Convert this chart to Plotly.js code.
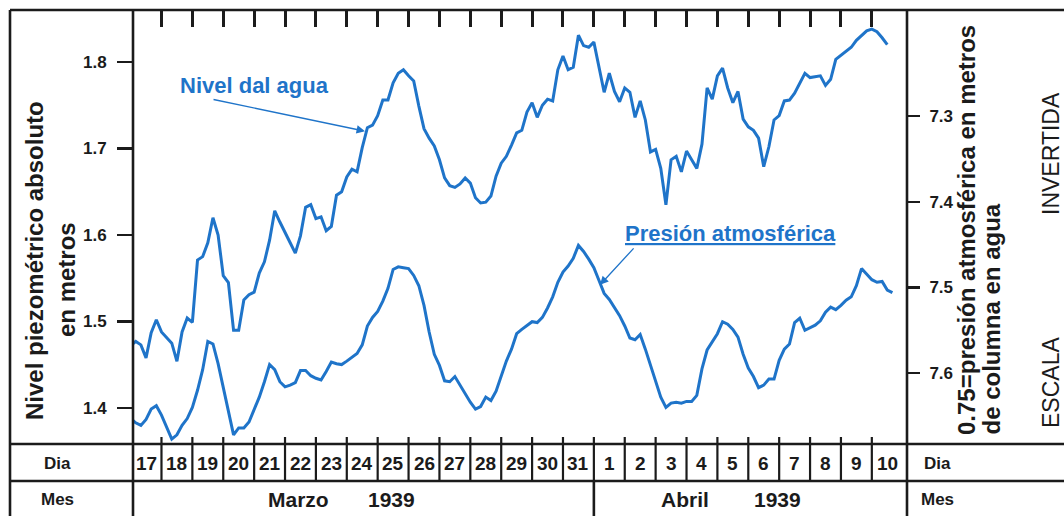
<!DOCTYPE html>
<html>
<head>
<meta charset="utf-8">
<script src="https://cdn.plot.ly/plotly-3.0.1.min.js"></script>
<style>
  html, body { margin: 0; padding: 0; background: #ffffff; }
  #chart { width: 1064px; height: 516px; }
</style>
</head>
<body>
<div id="chart"></div>
<script>
// Readings taken every 4 hours, starting 17 March 1939 at 00:00
const startDate = '1939-03-17';
const stepHours = 4;

// Nivel piezométrico absoluto (m), left scale
const nivelAgua = [
  1.472, 1.477, 1.473, 1.458, 1.487, 1.502, 1.488, 1.482, 1.475, 1.454, 1.488, 1.504,
  1.499, 1.571, 1.575, 1.591, 1.620, 1.600, 1.553, 1.545, 1.490, 1.490, 1.525, 1.531,
  1.534, 1.556, 1.569, 1.594, 1.628, 1.615, 1.602, 1.591, 1.579, 1.599, 1.632, 1.635,
  1.619, 1.621, 1.605, 1.610, 1.646, 1.650, 1.667, 1.676, 1.673, 1.701, 1.724, 1.727,
  1.738, 1.756, 1.756, 1.776, 1.787, 1.791, 1.784, 1.778, 1.749, 1.723, 1.712, 1.703,
  1.687, 1.666, 1.657, 1.655, 1.659, 1.666, 1.660, 1.643, 1.637, 1.638, 1.645, 1.668,
  1.683, 1.691, 1.704, 1.718, 1.721, 1.742, 1.753, 1.736, 1.750, 1.757, 1.755, 1.791,
  1.807, 1.791, 1.794, 1.831, 1.819, 1.817, 1.823, 1.792, 1.765, 1.787, 1.766, 1.754,
  1.770, 1.765, 1.736, 1.755, 1.733, 1.696, 1.699, 1.677, 1.635, 1.687, 1.691, 1.673,
  1.697, 1.687, 1.677, 1.705, 1.770, 1.757, 1.784, 1.793, 1.770, 1.753, 1.766, 1.734,
  1.725, 1.721, 1.712, 1.679, 1.702, 1.733, 1.738, 1.755, 1.756, 1.764, 1.775, 1.787,
  1.782, 1.783, 1.784, 1.773, 1.780, 1.803, 1.808, 1.813, 1.817, 1.825, 1.831, 1.836,
  1.838, 1.835, 1.828, 1.820
];

// 0.75 = presión atmosférica en metros de columna de agua, inverted right scale
const presionAtm = [
  7.653, 7.658, 7.661, 7.654, 7.642, 7.638, 7.649, 7.664, 7.677, 7.672, 7.661, 7.653,
  7.640, 7.620, 7.596, 7.563, 7.566, 7.589, 7.618, 7.646, 7.672, 7.664, 7.664, 7.657,
  7.643, 7.628, 7.610, 7.590, 7.596, 7.610, 7.616, 7.614, 7.611, 7.597, 7.597, 7.603,
  7.606, 7.608, 7.598, 7.587, 7.589, 7.590, 7.586, 7.582, 7.577, 7.567, 7.545, 7.535,
  7.528, 7.516, 7.501, 7.479, 7.476, 7.477, 7.478, 7.486, 7.498, 7.521, 7.552, 7.578,
  7.591, 7.609, 7.610, 7.604, 7.614, 7.624, 7.634, 7.642, 7.639, 7.628, 7.632, 7.621,
  7.604, 7.586, 7.572, 7.554, 7.549, 7.544, 7.540, 7.541, 7.535, 7.524, 7.511, 7.494,
  7.482, 7.475, 7.466, 7.451, 7.458, 7.467, 7.477, 7.492, 7.507, 7.514, 7.523, 7.533,
  7.545, 7.559, 7.561, 7.555, 7.572, 7.590, 7.609, 7.628, 7.640, 7.635, 7.634, 7.635,
  7.633, 7.633, 7.626, 7.595, 7.573, 7.563, 7.554, 7.540, 7.543, 7.549, 7.558, 7.578,
  7.594, 7.604, 7.617, 7.614, 7.607, 7.607, 7.585, 7.572, 7.566, 7.541, 7.536, 7.550,
  7.547, 7.544, 7.539, 7.529, 7.523, 7.526, 7.521, 7.515, 7.511, 7.498, 7.478, 7.485,
  7.491, 7.494, 7.493, 7.503, 7.506
];

// Calendar strip under the plot
const dayLabels = ['17','18','19','20','21','22','23','24','25','26','27','28','29','30','31',
                   '1','2','3','4','5','6','7','8','9','10'];
const monthNames = ['Marzo', 'Abril'];
const yearLabel = '1939';

const leftTicks = [1.4, 1.5, 1.6, 1.7, 1.8];
const rightTicks = [7.3, 7.4, 7.5, 7.6];

// ---- helpers ----
const HOUR = 3600e3, DAY = 24 * HOUR;
const t0 = Date.parse(startDate + 'T00:00:00Z');
const stamp = ms => new Date(ms).toISOString().slice(0, 16).replace('T', ' ');
const timesFor = n => Array.from({ length: n }, (_, k) => stamp(t0 + k * stepHours * HOUR));

const dayStarts = Array.from({ length: dayLabels.length + 1 }, (_, i) => stamp(t0 + i * DAY));
const dayNoons = dayLabels.map((_, i) => stamp(t0 + i * DAY + 12 * HOUR));

// month spans: a new month starts where the day number resets to 1
const monthStarts = [0].concat(dayLabels.map((d, i) => (d === '1' ? i : -1)).filter(i => i > 0));
const monthSpans = monthStarts.map((s, m) => [s, m + 1 < monthStarts.length ? monthStarts[m + 1] : dayLabels.length]);

const FONT = '"Liberation Sans", Arial, Helvetica, sans-serif';
const INK = '#1b1b1b';
const BLUE = '#1f74c9';
const FRAME_W = 2.6;

// plot-area geometry in paper units
const H = 434, W = 774;
const rowDia = -37 / H;      // bottom of the "Dia" row
const rowMes = -75 / H;      // bottom of the "Mes" row (below the page edge)
const leftEdge = -123 / W;   // outer left border
const rightEdge = 935 / W;   // beyond the page's right edge

const traces = [
  {
    type: 'scatter', mode: 'lines', name: 'Nivel del agua',
    x: timesFor(nivelAgua.length), y: nivelAgua, yaxis: 'y',
    line: { color: BLUE, width: 3 }, hoverinfo: 'skip'
  },
  {
    type: 'scatter', mode: 'lines', name: 'Presión atmosférica',
    x: timesFor(presionAtm.length), y: presionAtm, yaxis: 'y2',
    line: { color: BLUE, width: 3 }, hoverinfo: 'skip'
  }
];

const hline = (y, x0, x1) => ({ type: 'line', xref: 'paper', yref: 'paper', x0, x1, y0: y, y1: y,
  line: { color: INK, width: FRAME_W } });
const vline = (x, y0, y1) => ({ type: 'line', xref: 'paper', yref: 'paper', x0: x, x1: x, y0, y1,
  line: { color: INK, width: FRAME_W } });

const shapes = [
  vline(leftEdge, 1, rowMes),
  vline(0, 1, rowMes),
  vline(1, 1, rowMes),
  hline(1, leftEdge, rightEdge),
  hline(0, leftEdge, rightEdge),
  hline(rowDia, leftEdge, rightEdge)
];
// day cell dividers
dayStarts.slice(1, -1).forEach(d => shapes.push({
  type: 'line', xref: 'x', yref: 'paper', x0: d, x1: d, y0: 7 / H, y1: rowDia,
  line: { color: INK, width: 2.2 }
}));
// month cell dividers
monthStarts.slice(1).forEach(i => shapes.push({
  type: 'line', xref: 'x', yref: 'paper', x0: dayStarts[i], x1: dayStarts[i], y0: rowDia, y1: rowMes,
  line: { color: INK, width: FRAME_W }
}));

const bold = (size, color) => ({ family: FONT, size, color: color || INK, weight: 'bold' });
// text placed in paper units, always centred on its point
const paperText = (x, y, text, font, extra) => Object.assign({
  xref: 'paper', yref: 'paper', x, y, xanchor: 'center', yanchor: 'middle',
  text, showarrow: false, font
}, extra || {});

const annotations = [];
// day numbers
dayLabels.forEach((d, i) => annotations.push({
  xref: 'x', yref: 'paper', x: dayNoons[i], y: -19 / H, xanchor: 'center', yanchor: 'middle',
  text: d, showarrow: false, font: bold(19)
}));
// month and year
monthSpans.forEach(([s, e], m) => {
  const mid = t0 + (s + e) / 2 * DAY;
  annotations.push({ xref: 'x', yref: 'paper', x: stamp(mid - 2.05 * DAY), y: -56 / H,
    xanchor: 'center', yanchor: 'middle', text: monthNames[m], showarrow: false, font: bold(21) });
  annotations.push({ xref: 'x', yref: 'paper', x: stamp(mid + 0.95 * DAY), y: -56 / H,
    xanchor: 'center', yanchor: 'middle', text: yearLabel, showarrow: false, font: bold(21) });
});
// row headers
annotations.push(
  paperText(-76 / W, -19 / H, 'Dia', bold(17)),
  paperText(-76 / W, -56 / H, 'Mes', bold(17)),
  paperText(804 / W, -19 / H, 'Dia', bold(17)),
  paperText(804 / W, -56 / H, 'Mes', bold(17))
);

// axis titles, rotated
annotations.push(
  paperText(-99 / W, 183 / H, 'Nivel piezométrico absoluto', bold(24), { textangle: -90 }),
  paperText(-67 / W, 164 / H, 'en metros', bold(24), { textangle: -90 }),
  paperText(833 / W, 7 / H, '0.75=presión atmosférica en metros', bold(24), { textangle: -90, yanchor: 'bottom' }),
  paperText(858 / W, 7 / H, 'de columna en agua', bold(24), { textangle: -90, yanchor: 'bottom' }),
  paperText(918 / W, 290 / H, 'INVERTIDA', { family: FONT, size: 23, color: INK }, { textangle: -90 }),
  paperText(918 / W, 61 / H, 'ESCALA', { family: FONT, size: 23, color: INK }, { textangle: -90 })
);

// series labels with leader arrows
annotations.push(
  { xref: 'x', yref: 'y', x: '1939-03-21 00:40', y: 1.7734, showarrow: false,
    xanchor: 'center', yanchor: 'middle', text: 'Nivel dal agua', font: bold(22, BLUE) },
  { xref: 'x', yref: 'y', x: '1939-03-24 14:10', y: 1.720, ax: -153, ay: -32, text: '',
    showarrow: true, arrowhead: 2, arrowsize: 1.3, arrowwidth: 1.3, arrowcolor: BLUE, standoff: 0 },
  { xref: 'x', yref: 'y2', x: '1939-04-05 10:10', y: 7.4365, showarrow: false,
    xanchor: 'center', yanchor: 'middle', text: 'Presión atmosférica',
    font: Object.assign(bold(22, BLUE), { lineposition: 'under' }) },
  { xref: 'x', yref: 'y2', x: '1939-04-01 04:46', y: 7.497, ax: 35, ay: -38, text: '',
    showarrow: true, arrowhead: 2, arrowsize: 1.3, arrowwidth: 1.3, arrowcolor: BLUE, standoff: 0 }
);

const layout = {
  width: 1064, height: 516,
  margin: { l: 133, r: 157, t: 10, b: 72, pad: 0 },
  paper_bgcolor: '#ffffff', plot_bgcolor: '#ffffff',
  showlegend: false,
  font: { family: FONT, color: INK },
  xaxis: {
    type: 'date', range: ['1939-03-17 01:52', '1939-04-11 03:20'],
    side: 'top', showgrid: false, zeroline: false, showline: false,
    tickmode: 'array', tickvals: dayStarts.slice(1, -1),
    ticks: 'inside', ticklen: 17, tickwidth: 3, tickcolor: INK, showticklabels: false,
    fixedrange: true
  },
  yaxis: {
    range: [1.3584, 1.8601], showgrid: false, zeroline: false, showline: false,
    tickmode: 'array', tickvals: leftTicks, ticktext: leftTicks.map(v => v.toFixed(1)),
    ticks: 'outside', ticklen: 15, tickwidth: 2.4, tickcolor: INK, ticklabelstandoff: 7,
    tickfont: bold(17), fixedrange: true
  },
  yaxis2: {
    overlaying: 'y', side: 'right', anchor: 'x',
    range: [7.6827, 7.1763], showgrid: false, zeroline: false, showline: false,
    tickmode: 'array', tickvals: rightTicks, ticktext: rightTicks.map(v => v.toFixed(1)),
    ticks: 'outside', ticklen: 12, tickwidth: 2.4, tickcolor: INK, ticklabelstandoff: 6,
    tickfont: bold(17), fixedrange: true
  },
  shapes, annotations
};

Plotly.newPlot('chart', traces, layout, { staticPlot: true, displayModeBar: false });
</script>
</body>
</html>
